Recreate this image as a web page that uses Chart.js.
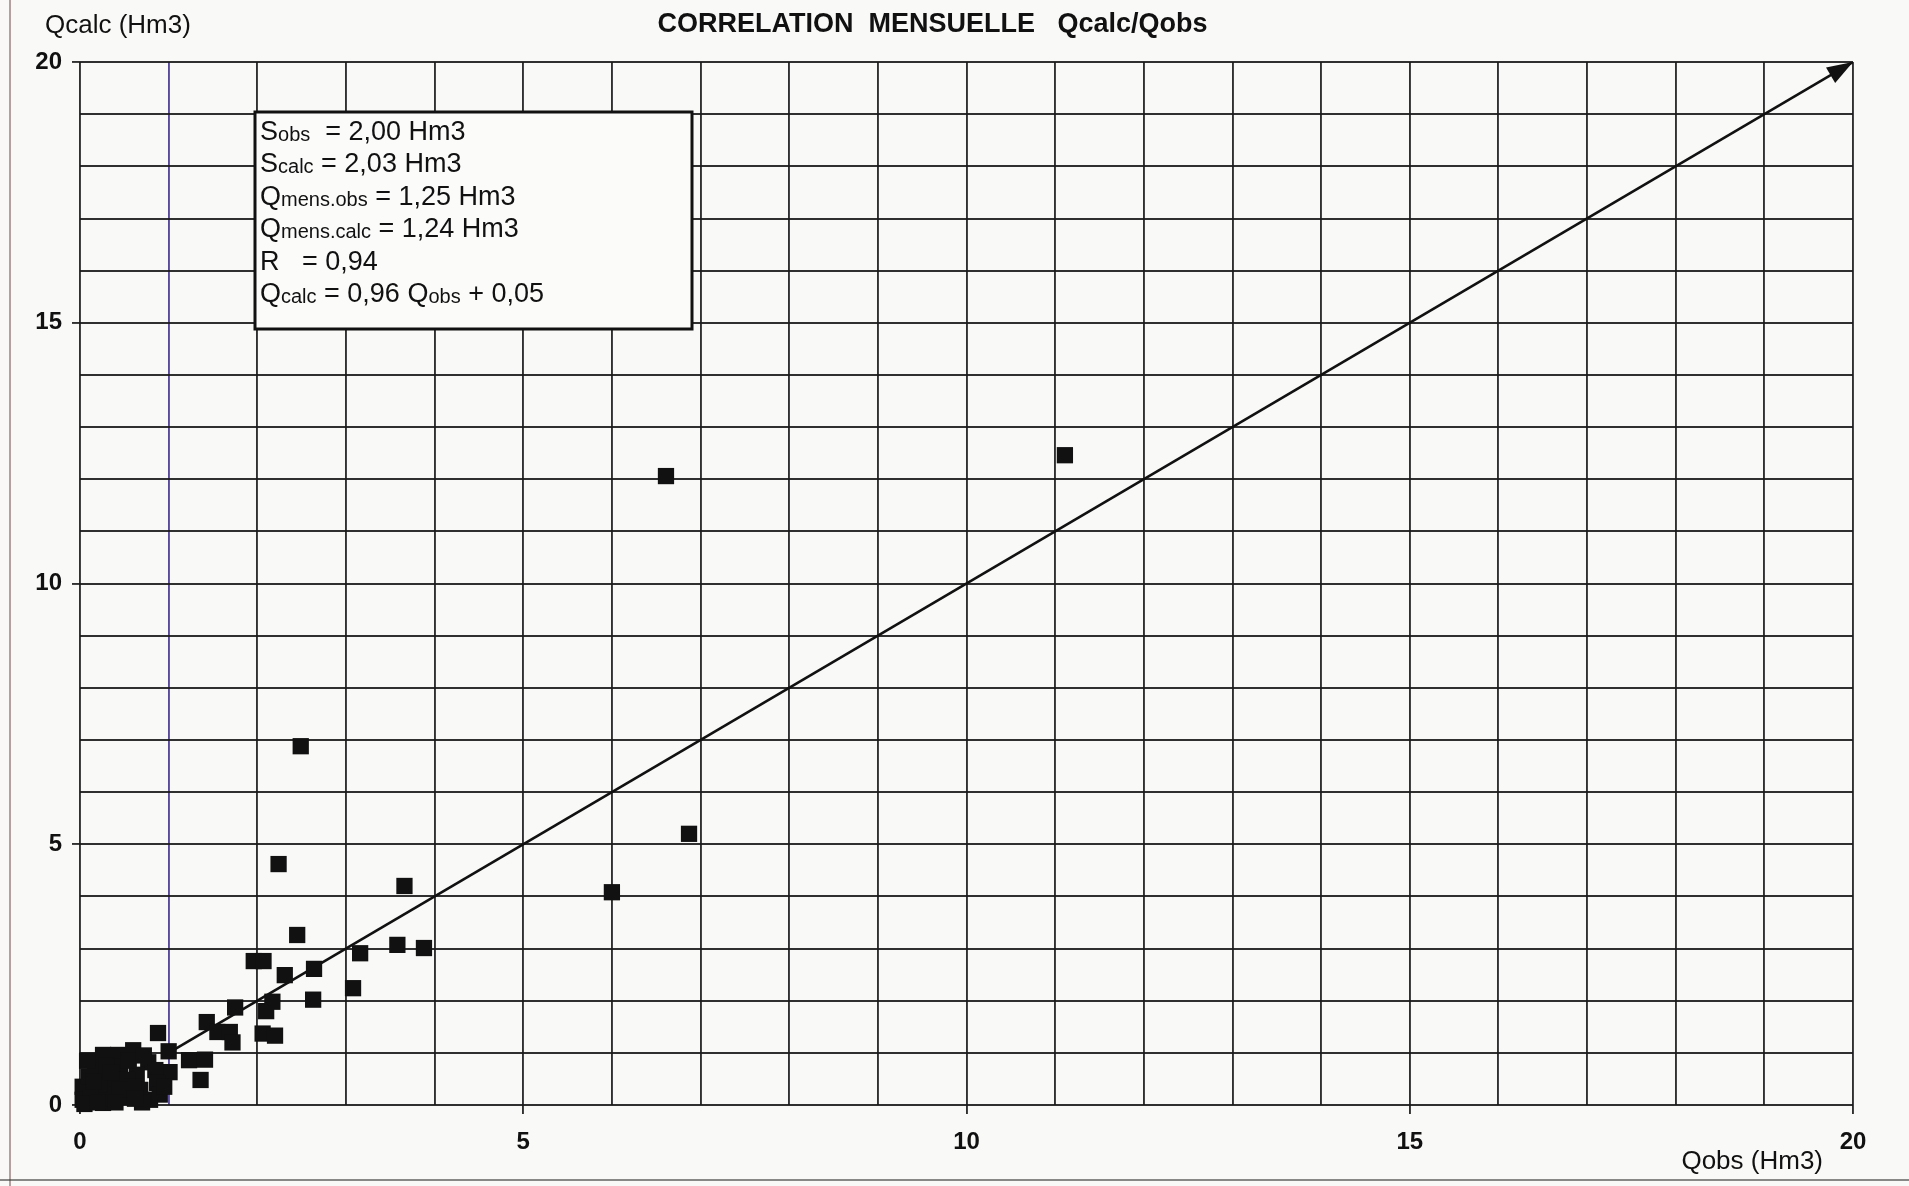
<!DOCTYPE html>
<html>
<head>
<meta charset="utf-8">
<title>Correlation mensuelle Qcalc/Qobs</title>
<script src="https://cdn.jsdelivr.net/npm/chart.js@4.4.1/dist/chart.umd.min.js"></script>
<style>
  body { margin: 0; background: #f9f9f7; }
  .chart-container { width: 1909px; height: 1186px; position: relative; }
</style>
</head>
<body>
<div class="chart-container"><canvas id="correlationChart"></canvas></div>
<script>
// Monthly volumes, observed vs computed (Hm3)
let qObs = [6.61, 11.11, 6.87, 6.00, 2.49, 2.24, 3.66, 2.45, 3.58, 3.88,
            3.16, 1.96, 2.07, 2.64, 2.31, 3.08, 2.17, 2.63, 1.75, 2.10,
            1.43, 1.55, 1.69, 1.72, 2.06, 2.20, 0.88, 1.00, 1.23, 1.41,
            1.36, 1.01, 0.26, 0.43, 0.60, 0.17, 0.45, 0.77, 0.85, 0.64,
            0.37, 0.53, 0.03, 0.17, 0.34, 0.49, 0.68, 0.79, 0.87, 0.03,
            0.26, 0.10, 0.22, 0.60, 0.45, 0.12, 0.70, 0.05, 0.40, 0.90,
            0.55, 0.30, 0.08, 0.35, 0.72, 0.95, 0.20, 0.62, 0.15];
let qCalc = [12.06, 12.46, 5.20, 4.08, 6.88, 4.62, 4.20, 3.26, 3.07, 3.01,
             2.91, 2.76, 2.76, 2.61, 2.49, 2.24, 1.98, 2.02, 1.87, 1.80,
             1.59, 1.40, 1.40, 1.20, 1.37, 1.33, 1.38, 1.03, 0.86, 0.87,
             0.48, 0.63, 0.96, 0.96, 1.05, 0.71, 0.73, 0.82, 0.67, 0.58,
             0.48, 0.48, 0.35, 0.23, 0.19, 0.15, 0.29, 0.10, 0.42, 0.10,
             0.04, 0.55, 0.40, 0.35, 0.30, 0.15, 0.05, 0.02, 0.05, 0.20,
             0.85, 0.75, 0.85, 0.62, 0.95, 0.35, 0.05, 0.12, 0.45];

// 1:1 reference line, drawn as an arrow
let refLineX = [1, 20];
let refLineY = [1, 20];

let axisMin = 0;
let axisMax = 20;
let labelStep = 5;

// Text of the statistics box: [text, isSubscript]
let statLines = [
  [["S", false], ["obs", true], ["  = 2,00 Hm3", false]],
  [["S", false], ["calc", true], [" = 2,03 Hm3", false]],
  [["Q", false], ["mens.obs", true], [" = 1,25 Hm3", false]],
  [["Q", false], ["mens.calc", true], [" = 1,24 Hm3", false]],
  [["R   = 0,94", false]],
  [["Q", false], ["calc", true], [" = 0,96 Q", false], ["obs", true], [" + 0,05", false]]
];

let fontFamily = "'Liberation Sans', Arial, sans-serif";
let gridColor = "rgba(25,25,25,0.9)";

let points = qObs.map(function(v, i) { return { x: v, y: qCalc[i] }; });
let refLine = refLineX.map(function(v, i) { return { x: v, y: refLineY[i] }; });

let extrasPlugin = {
  id: "extras",
  beforeDraw: function(chart) {
    let ctx = chart.ctx;
    ctx.save();
    ctx.fillStyle = "#f9f9f7";
    ctx.fillRect(0, 0, chart.width, chart.height);
    // scanned page edges
    ctx.strokeStyle = "rgba(120,80,80,0.7)";
    ctx.lineWidth = 1.5;
    ctx.beginPath();
    ctx.moveTo(10, 0); ctx.lineTo(10, chart.height);
    ctx.stroke();
    ctx.strokeStyle = "rgba(60,60,60,0.8)";
    ctx.beginPath();
    ctx.moveTo(0, 1180); ctx.lineTo(chart.width, 1180);
    ctx.stroke();
    ctx.restore();
  },
  afterDatasetsDraw: function(chart) {
    let ctx = chart.ctx;
    let xs = chart.scales.x;
    let ys = chart.scales.y;
    let area = chart.chartArea;
    ctx.save();

    // arrow head at the end of the 1:1 line
    let x1 = xs.getPixelForValue(refLineX[0]), y1 = ys.getPixelForValue(refLineY[0]);
    let x2 = xs.getPixelForValue(refLineX[1]), y2 = ys.getPixelForValue(refLineY[1]);
    let ang = Math.atan2(y2 - y1, x2 - x1);
    ctx.fillStyle = "#111";
    ctx.beginPath();
    ctx.moveTo(x2, y2);
    ctx.lineTo(x2 - 26 * Math.cos(ang) + 9 * Math.sin(ang), y2 - 26 * Math.sin(ang) - 9 * Math.cos(ang));
    ctx.lineTo(x2 - 26 * Math.cos(ang) - 9 * Math.sin(ang), y2 - 26 * Math.sin(ang) + 9 * Math.cos(ang));
    ctx.closePath();
    ctx.fill();

    // statistics box
    let bx = area.left + 175, by = area.top + 50, bw = 437, bh = 217;
    ctx.fillStyle = "#fbfbfa";
    ctx.fillRect(bx, by, bw, bh);
    ctx.strokeStyle = "#111";
    ctx.lineWidth = 3;
    ctx.strokeRect(bx, by, bw, bh);
    ctx.fillStyle = "#111";
    ctx.textBaseline = "alphabetic";
    ctx.textAlign = "left";
    statLines.forEach(function(parts, i) {
      let tx = bx + 5;
      let ty = by + 28 + i * 32.4;
      parts.forEach(function(p) {
        ctx.font = (p[1] ? "20px " : "27px ") + fontFamily;
        ctx.fillText(p[0], tx, ty + (p[1] ? 1 : 0));
        tx += ctx.measureText(p[0]).width;
      });
    });

    // axis titles
    ctx.font = "26px " + fontFamily;
    ctx.textBaseline = "middle";
    ctx.fillText("Qcalc (Hm3)", 45, 26);
    ctx.textAlign = "right";
    ctx.fillText("Qobs (Hm3)", area.right - 30, 1162);
    ctx.restore();
  }
};

function tickLabel(value) {
  return value % labelStep === 0 ? value : "";
}

function tickMarkColor(c) {
  return c.tick && c.tick.value % labelStep === 0 ? gridColor : "rgba(0,0,0,0)";
}

let ctx = document.getElementById("correlationChart").getContext("2d");
let correlationChart = new Chart(ctx, {
  type: "scatter",
  data: {
    datasets: [{
      label: "Qcalc/Qobs",
      data: points,
      pointStyle: "rect",
      pointRadius: 11.5,
      pointHoverRadius: 12,
      backgroundColor: "#111",
      borderColor: "#111",
      borderWidth: 0,
      clip: false,
      order: 1
    }, {
      type: "line",
      label: "1:1",
      data: refLine,
      borderColor: "#111",
      borderWidth: 2.6,
      pointRadius: 0,
      fill: false,
      order: 2
    }]
  },
  options: {
    responsive: true,
    maintainAspectRatio: false,
    animation: false,
    layout: { padding: { left: 12, right: 56, top: 8, bottom: 0 } },
    plugins: {
      legend: { display: false },
      title: {
        display: true,
        text: "CORRELATION  MENSUELLE   Qcalc/Qobs",
        color: "#111",
        font: { size: 27, weight: "bold", family: fontFamily },
        padding: { top: 0, bottom: 21.6 }
      }
    },
    scales: {
      x: {
        type: "linear",
        min: axisMin,
        max: axisMax,
        afterFit: function(scale) { scale.height = 81; },
        ticks: {
          stepSize: 1,
          autoSkip: false,
          maxRotation: 0,
          padding: 14,
          color: "#111",
          font: { size: 24, weight: "bold", family: fontFamily },
          callback: tickLabel
        },
        grid: {
          color: function(c) { return c.tick && c.tick.value === 1 ? "#5a4a9a" : gridColor; },
          lineWidth: 1.9,
          tickLength: 9,
          tickColor: tickMarkColor
        },
        border: { display: false }
      },
      y: {
        type: "linear",
        min: axisMin,
        max: axisMax,
        afterFit: function(scale) { scale.width = 68; },
        ticks: {
          stepSize: 1,
          autoSkip: false,
          padding: 10,
          color: "#111",
          font: { size: 24, weight: "bold", family: fontFamily },
          callback: tickLabel
        },
        grid: {
          color: gridColor,
          lineWidth: 1.9,
          tickLength: 8,
          tickColor: tickMarkColor
        },
        border: { display: false }
      }
    }
  },
  plugins: [extrasPlugin]
});
</script>
</body>
</html>
